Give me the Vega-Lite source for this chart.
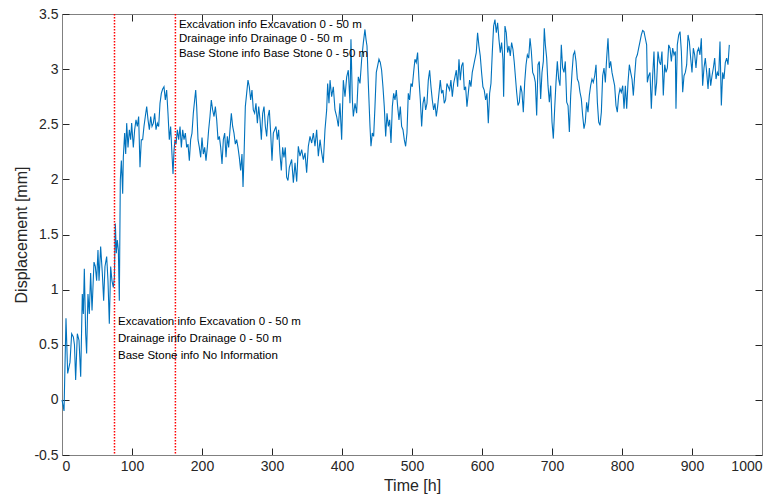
{
  "$schema": "https://vega.github.io/schema/vega-lite/v6.json",
  "width": 700,
  "height": 441,
  "autosize": "none",
  "padding": {"left": 62, "top": 14, "right": 16, "bottom": 47},
  "background": "white",
  "datasets": {
    "series": [
      {"t":0,"d":0.0},{"t":2.9,"d":-0.1},{"t":5.7,"d":0.74},{"t":8.1,"d":0.24},{"t":11.4,"d":0.34},{"t":13.8,"d":0.6},{"t":16.2,"d":0.57},{"t":17.8,"d":0.5},{"t":19.5,"d":0.18},{"t":21.9,"d":0.6},{"t":24.3,"d":0.54},{"t":26.7,"d":0.21},{"t":29.0,"d":0.96},{"t":30.5,"d":0.78},{"t":31.9,"d":1.19},{"t":33.8,"d":0.6},{"t":35.2,"d":0.42},{"t":37.1,"d":0.96},{"t":39.0,"d":0.78},{"t":40.9,"d":1.15},{"t":42.9,"d":0.81},{"t":45.7,"d":1.25},{"t":47.6,"d":1.21},{"t":49.5,"d":1.08},{"t":51.4,"d":1.36},{"t":52.9,"d":1.08},{"t":55.2,"d":1.39},{"t":57.6,"d":1.15},{"t":59.5,"d":0.9},{"t":61.4,"d":1.21},{"t":63.8,"d":1.3},{"t":65.7,"d":1.08},{"t":67.6,"d":0.69},{"t":69.5,"d":1.21},{"t":71.4,"d":1.08},{"t":73.3,"d":1.02},{"t":74.8,"d":1.11},{"t":76.2,"d":1.6},{"t":77.6,"d":1.33},{"t":79.0,"d":1.45},{"t":80.5,"d":1.36},{"t":81.9,"d":0.9},{"t":83.3,"d":1.99},{"t":84.8,"d":2.17},{"t":86.7,"d":1.87},{"t":87.6,"d":2.2},{"t":89.5,"d":2.42},{"t":91.0,"d":2.23},{"t":92.4,"d":2.51},{"t":94.3,"d":2.29},{"t":96.2,"d":2.45},{"t":98.1,"d":2.36},{"t":99.5,"d":2.51},{"t":101.9,"d":2.29},{"t":103.8,"d":2.45},{"t":105.7,"d":2.54},{"t":107.6,"d":2.48},{"t":109.5,"d":2.57},{"t":111.4,"d":2.11},{"t":113.3,"d":2.36},{"t":115.2,"d":2.36},{"t":117.1,"d":2.48},{"t":119.0,"d":2.57},{"t":121.0,"d":2.66},{"t":122.9,"d":2.54},{"t":124.8,"d":2.45},{"t":126.7,"d":2.57},{"t":128.6,"d":2.48},{"t":130.5,"d":2.51},{"t":132.4,"d":2.6},{"t":134.3,"d":2.45},{"t":136.2,"d":2.51},{"t":138.1,"d":2.48},{"t":140.0,"d":2.69},{"t":141.9,"d":2.78},{"t":143.8,"d":2.82},{"t":145.7,"d":2.84},{"t":147.6,"d":2.72},{"t":149.5,"d":2.81},{"t":151.4,"d":2.6},{"t":153.3,"d":2.36},{"t":155.2,"d":2.48},{"t":157.1,"d":2.23},{"t":158.6,"d":2.05},{"t":160.0,"d":2.26},{"t":161.4,"d":2.36},{"t":162.9,"d":2.32},{"t":164.8,"d":2.45},{"t":166.7,"d":2.36},{"t":168.6,"d":2.48},{"t":170.5,"d":2.29},{"t":172.4,"d":2.45},{"t":174.3,"d":2.36},{"t":176.2,"d":2.42},{"t":178.1,"d":2.29},{"t":180.0,"d":2.32},{"t":181.9,"d":2.17},{"t":183.8,"d":2.36},{"t":185.7,"d":2.42},{"t":187.6,"d":2.6},{"t":189.5,"d":2.72},{"t":191.0,"d":2.81},{"t":192.4,"d":2.66},{"t":194.3,"d":2.36},{"t":196.2,"d":2.29},{"t":198.1,"d":2.2},{"t":200.0,"d":2.38},{"t":201.9,"d":2.23},{"t":203.8,"d":2.29},{"t":205.7,"d":2.17},{"t":207.6,"d":2.29},{"t":209.5,"d":2.45},{"t":211.4,"d":2.57},{"t":213.3,"d":2.72},{"t":215.2,"d":2.63},{"t":217.2,"d":2.57},{"t":219.1,"d":2.66},{"t":221.0,"d":2.54},{"t":222.9,"d":2.36},{"t":224.8,"d":2.39},{"t":226.7,"d":2.29},{"t":228.6,"d":2.14},{"t":230.5,"d":2.36},{"t":232.4,"d":2.42},{"t":234.3,"d":2.2},{"t":236.2,"d":2.39},{"t":238.1,"d":2.29},{"t":240.0,"d":2.45},{"t":241.9,"d":2.6},{"t":243.8,"d":2.48},{"t":245.7,"d":2.42},{"t":247.6,"d":2.32},{"t":249.5,"d":2.36},{"t":251.4,"d":2.29},{"t":253.3,"d":2.2},{"t":255.2,"d":2.08},{"t":257.1,"d":2.23},{"t":258.6,"d":1.93},{"t":260.0,"d":2.2},{"t":261.9,"d":2.66},{"t":263.8,"d":2.78},{"t":265.7,"d":2.9},{"t":267.6,"d":2.84},{"t":269.5,"d":2.72},{"t":271.4,"d":2.81},{"t":273.3,"d":2.63},{"t":275.2,"d":2.6},{"t":277.1,"d":2.69},{"t":279.1,"d":2.51},{"t":281.0,"d":2.66},{"t":282.9,"d":2.54},{"t":284.8,"d":2.36},{"t":286.7,"d":2.6},{"t":288.6,"d":2.66},{"t":290.5,"d":2.48},{"t":292.4,"d":2.39},{"t":294.3,"d":2.57},{"t":296.2,"d":2.63},{"t":298.1,"d":2.42},{"t":300.0,"d":2.17},{"t":301.9,"d":2.42},{"t":303.8,"d":2.45},{"t":305.7,"d":2.48},{"t":307.6,"d":2.36},{"t":309.5,"d":2.45},{"t":311.4,"d":2.23},{"t":313.3,"d":2.08},{"t":315.2,"d":2.29},{"t":317.1,"d":2.2},{"t":319.0,"d":2.29},{"t":320.9,"d":2.02},{"t":322.8,"d":1.99},{"t":324.8,"d":2.11},
      {"t":328.1,"d":2.18},{"t":330.5,"d":1.97},{"t":332.9,"d":2.15},{"t":335.3,"d":1.98},{"t":337.6,"d":2.3},{"t":340.0,"d":2.21},{"t":342.4,"d":2.27},{"t":344.8,"d":2.18},{"t":347.2,"d":2.24},{"t":349.5,"d":2.06},{"t":351.9,"d":2.3},{"t":354.3,"d":2.39},{"t":356.7,"d":2.33},{"t":359.1,"d":2.42},{"t":361.4,"d":2.3},{"t":363.8,"d":2.45},{"t":366.2,"d":2.21},{"t":368.6,"d":2.36},{"t":371.0,"d":2.24},{"t":373.3,"d":2.15},{"t":375.7,"d":2.45},{"t":378.1,"d":2.63},{"t":379.5,"d":2.87},{"t":381.4,"d":2.69},{"t":382.9,"d":2.9},{"t":385.2,"d":2.75},{"t":387.6,"d":2.84},{"t":390.0,"d":2.63},{"t":392.4,"d":2.57},{"t":394.8,"d":2.48},{"t":397.1,"d":2.69},{"t":399.5,"d":2.36},{"t":401.9,"d":2.9},{"t":404.3,"d":2.75},{"t":406.7,"d":2.93},{"t":409.0,"d":2.99},{"t":411.4,"d":2.69},{"t":412.8,"d":3.27},{"t":414.8,"d":2.72},{"t":416.2,"d":2.57},{"t":418.6,"d":2.69},{"t":420.9,"d":2.6},{"t":423.3,"d":2.93},{"t":425.7,"d":2.87},{"t":428.1,"d":3.09},{"t":430.5,"d":3.24},{"t":432.8,"d":3.36},{"t":434.3,"d":3.27},{"t":435.7,"d":3.21},{"t":437.6,"d":2.87},{"t":440.0,"d":2.48},{"t":441.4,"d":2.3},{"t":443.3,"d":2.42},{"t":445.2,"d":2.39},{"t":447.1,"d":2.66},{"t":449.0,"d":2.97},{"t":450.9,"d":3.03},{"t":452.8,"d":3.09},{"t":454.7,"d":3.06},{"t":456.6,"d":2.99},{"t":458.5,"d":2.84},{"t":460.4,"d":2.66},{"t":462.4,"d":2.39},{"t":464.3,"d":2.6},{"t":466.2,"d":2.48},{"t":468.1,"d":2.54},{"t":470.0,"d":2.33},{"t":471.9,"d":2.66},{"t":473.8,"d":2.78},{"t":475.7,"d":2.72},{"t":477.6,"d":2.81},{"t":479.5,"d":2.66},{"t":481.4,"d":2.54},{"t":483.3,"d":2.66},{"t":485.2,"d":2.48},{"t":487.1,"d":2.45},{"t":489.0,"d":2.36},{"t":490.9,"d":2.3},{"t":492.8,"d":2.42},{"t":494.7,"d":2.78},{"t":496.6,"d":2.72},{"t":498.5,"d":2.87},{"t":500.4,"d":2.84},{"t":502.3,"d":2.97},{"t":504.2,"d":3.09},{"t":506.1,"d":3.06},{"t":508.0,"d":3.15},{"t":510.0,"d":2.9},{"t":511.9,"d":2.72},{"t":513.8,"d":2.48},{"t":515.7,"d":2.69},{"t":517.6,"d":2.75},{"t":519.5,"d":2.63},{"t":521.4,"d":2.69},{"t":523.3,"d":2.9},{"t":525.2,"d":2.99},{"t":527.1,"d":2.84},{"t":529.0,"d":2.72},{"t":530.9,"d":2.63},{"t":532.8,"d":2.69},{"t":534.7,"d":2.57},{"t":536.6,"d":2.66},{"t":538.5,"d":2.78},{"t":540.4,"d":2.9},{"t":542.3,"d":2.78},{"t":544.2,"d":2.81},{"t":546.1,"d":2.69},{"t":548.0,"d":2.72},{"t":549.9,"d":2.87},{"t":551.8,"d":2.84},{"t":553.7,"d":2.81},{"t":555.6,"d":2.9},{"t":557.6,"d":2.75},{"t":559.5,"d":2.87},{"t":561.4,"d":2.93},{"t":563.3,"d":2.99},{"t":565.2,"d":2.84},{"t":567.1,"d":3.09},{"t":569.0,"d":2.9},{"t":570.9,"d":3.03},{"t":572.8,"d":3.06},{"t":574.7,"d":2.81},{"t":576.6,"d":2.84},{"t":578.5,"d":2.66},{"t":580.4,"d":2.78},{"t":582.3,"d":2.9},{"t":584.2,"d":2.84},{"t":586.1,"d":2.97},{"t":588.0,"d":3.03},{"t":589.9,"d":3.09},{"t":591.8,"d":3.15},{"t":593.7,"d":3.33},{"t":595.6,"d":3.21},{"t":597.5,"d":3.12},{"t":599.4,"d":2.97},{"t":601.3,"d":2.84},{"t":603.2,"d":2.81},{"t":605.2,"d":2.72},{"t":607.1,"d":2.78},{"t":609.0,"d":2.51},{"t":610.9,"d":2.78},{"t":612.8,"d":2.87},{"t":614.7,"d":3.15},{"t":616.6,"d":3.39},{"t":618.5,"d":3.45},{"t":620.4,"d":3.33},{"t":622.3,"d":3.42},{"t":624.2,"d":3.27},{"t":626.1,"d":3.15},{"t":628.0,"d":3.24},{"t":629.9,"d":3.09},{"t":630.9,"d":2.75},{"t":632.8,"d":3.39},{"t":634.7,"d":3.33},{"t":636.6,"d":3.15},{"t":638.5,"d":3.21},{"t":640.4,"d":3.12},{"t":642.3,"d":3.24},{"t":644.2,"d":3.18},{"t":646.1,"d":3.06},
      {"t":649.5,"d":2.79},{"t":651.4,"d":2.67},{"t":653.3,"d":2.7},{"t":655.2,"d":2.85},{"t":657.1,"d":2.79},{"t":659.0,"d":2.61},{"t":661.0,"d":2.88},{"t":662.9,"d":3.04},{"t":664.8,"d":3.13},{"t":666.7,"d":3.1},{"t":668.6,"d":3.28},{"t":670.5,"d":3.16},{"t":672.4,"d":2.97},{"t":674.3,"d":2.94},{"t":676.2,"d":2.88},{"t":678.1,"d":2.58},{"t":680.0,"d":3.04},{"t":681.9,"d":3.07},{"t":683.8,"d":2.73},{"t":685.7,"d":2.97},{"t":687.6,"d":3.07},{"t":689.0,"d":3.37},{"t":690.5,"d":3.22},{"t":692.4,"d":3.1},{"t":694.3,"d":2.85},{"t":696.2,"d":2.7},{"t":698.1,"d":2.85},{"t":700.0,"d":2.52},{"t":701.9,"d":2.37},{"t":703.8,"d":2.64},{"t":705.7,"d":2.88},{"t":707.6,"d":3.07},{"t":709.5,"d":2.91},{"t":711.4,"d":2.85},{"t":713.3,"d":3.22},{"t":715.2,"d":3.01},{"t":717.1,"d":2.97},{"t":719.0,"d":3.07},{"t":721.0,"d":2.7},{"t":722.9,"d":2.67},{"t":724.8,"d":2.43},{"t":726.7,"d":2.76},{"t":728.6,"d":2.97},{"t":730.5,"d":3.13},{"t":732.4,"d":3.16},{"t":734.3,"d":3.07},{"t":736.2,"d":2.91},{"t":738.1,"d":2.88},{"t":740.0,"d":2.79},{"t":741.9,"d":2.73},{"t":743.8,"d":2.58},{"t":745.7,"d":2.46},{"t":747.6,"d":2.52},{"t":749.5,"d":2.7},{"t":751.4,"d":2.61},{"t":753.3,"d":2.76},{"t":755.2,"d":2.85},{"t":757.1,"d":2.91},{"t":759.0,"d":2.88},{"t":761.0,"d":2.94},{"t":762.9,"d":3.04},{"t":764.8,"d":2.7},{"t":766.7,"d":2.52},{"t":768.6,"d":2.49},{"t":770.5,"d":2.61},{"t":772.4,"d":2.94},{"t":774.3,"d":3.01},{"t":776.2,"d":2.88},{"t":778.1,"d":3.1},{"t":780.0,"d":3.28},{"t":781.9,"d":3.01},{"t":783.8,"d":3.07},{"t":785.7,"d":2.97},{"t":787.6,"d":2.91},{"t":789.5,"d":2.85},{"t":791.4,"d":2.67},{"t":793.3,"d":2.61},{"t":795.2,"d":2.76},{"t":797.1,"d":2.82},{"t":799.0,"d":2.79},{"t":801.0,"d":2.85},{"t":802.9,"d":2.64},{"t":804.8,"d":2.85},{"t":806.7,"d":2.64},{"t":808.6,"d":2.88},{"t":810.5,"d":3.04},{"t":812.4,"d":2.97},{"t":814.3,"d":2.91},{"t":816.2,"d":2.76},{"t":818.1,"d":2.94},{"t":820.0,"d":3.1},{"t":821.9,"d":3.13},{"t":823.8,"d":3.19},{"t":825.7,"d":3.25},{"t":827.6,"d":3.31},{"t":829.5,"d":3.35},{"t":831.4,"d":3.34},{"t":833.3,"d":3.28},{"t":835.2,"d":3.22},{"t":836.2,"d":2.88},{"t":838.1,"d":2.94},{"t":840.0,"d":2.97},{"t":841.9,"d":2.64},{"t":843.8,"d":2.94},{"t":845.7,"d":3.16},{"t":847.6,"d":2.76},{"t":849.5,"d":2.88},{"t":851.4,"d":3.16},{"t":853.3,"d":3.07},{"t":855.2,"d":3.04},{"t":857.1,"d":3.16},{"t":859.0,"d":2.76},{"t":861.0,"d":3.04},{"t":862.9,"d":2.97},{"t":864.8,"d":3.01},{"t":866.7,"d":3.22},{"t":868.6,"d":3.19},{"t":870.5,"d":3.07},{"t":872.4,"d":3.19},{"t":874.3,"d":3.13},{"t":876.2,"d":3.16},{"t":877.1,"d":2.64},{"t":879.0,"d":3.22},{"t":881.0,"d":3.31},{"t":882.9,"d":3.34},{"t":884.8,"d":3.16},{"t":886.7,"d":2.79},{"t":888.6,"d":2.94},{"t":890.5,"d":2.97},{"t":892.4,"d":3.04},{"t":894.3,"d":3.31},{"t":896.2,"d":3.25},{"t":898.1,"d":3.1},{"t":900.0,"d":2.97},{"t":901.9,"d":3.19},{"t":903.8,"d":3.13},{"t":905.7,"d":3.01},{"t":907.6,"d":3.16},{"t":909.5,"d":3.19},{"t":911.4,"d":3.13},{"t":913.3,"d":3.28},{"t":915.2,"d":2.85},{"t":917.1,"d":3.01},{"t":919.0,"d":3.1},{"t":921.0,"d":2.97},{"t":922.9,"d":2.82},{"t":924.8,"d":3.01},{"t":926.7,"d":2.85},{"t":928.6,"d":2.94},{"t":930.5,"d":3.01},{"t":932.4,"d":3.1},{"t":934.3,"d":2.91},{"t":936.2,"d":2.97},{"t":938.1,"d":2.94},{"t":940.0,"d":3.25},{"t":941.9,"d":2.67},{"t":943.8,"d":2.97},{"t":945.7,"d":2.91},{"t":947.6,"d":3.06},{"t":949.5,"d":3.1},{"t":951.4,"d":3.04},{"t":953.3,"d":3.22}
    ],
    "events": [{"t": 75}, {"t": 162}],
    "notes": [
      {"t": 167, "d": 3.4, "label": "Excavation info Excavation 0 - 50 m"},
      {"t": 167, "d": 3.27, "label": "Drainage info Drainage 0 - 50 m"},
      {"t": 167, "d": 3.14, "label": "Base Stone info Base Stone 0 - 50 m"},
      {"t": 80, "d": 0.71, "label": "Excavation info Excavation 0 - 50 m"},
      {"t": 80, "d": 0.55, "label": "Drainage info Drainage 0 - 50 m"},
      {"t": 80, "d": 0.4, "label": "Base Stone info No Information"}
    ]
  },
  "layer": [
    {
      "data": {"name": "series"},
      "mark": {"type": "line", "color": "#0072BD", "strokeWidth": 1.1, "interpolate": "linear"},
      "encoding": {
        "x": {
          "field": "t", "type": "quantitative",
          "scale": {"domain": [0, 1000], "nice": false, "zero": false},
          "axis": {"orient": "bottom", "title": "Time [h]", "values": [0,100,200,300,400,500,600,700,800,900,1000], "labelExpr": "'' + datum.value"}
        },
        "y": {
          "field": "d", "type": "quantitative",
          "scale": {"domain": [-0.5, 3.5], "nice": false, "zero": false},
          "axis": {"orient": "left", "title": "Displacement [mm]", "values": [-0.5,0,0.5,1,1.5,2,2.5,3,3.5], "labelExpr": "'' + datum.value"}
        }
      }
    },
    {
      "data": {"name": "events"},
      "mark": {"type": "rule", "color": "#FF0000", "strokeWidth": 1.5, "strokeDash": [1.5, 1.5]},
      "encoding": {"x": {"field": "t", "type": "quantitative", "axis": null}}
    },
    {
      "data": {"name": "notes"},
      "mark": {"type": "text", "align": "left", "baseline": "middle", "font": "Liberation Sans", "fontSize": 11.5, "color": "#000000"},
      "encoding": {
        "x": {"field": "t", "type": "quantitative", "axis": null},
        "y": {"field": "d", "type": "quantitative", "axis": null},
        "text": {"field": "label"}
      }
    },
    {
      "data": {"name": "notes"},
      "mark": {"type": "point", "opacity": 0},
      "encoding": {
        "x": {"field": "t", "type": "quantitative", "axis": {"orient": "top", "labels": false, "title": null, "values": [0,100,200,300,400,500,600,700,800,900,1000]}},
        "y": {"field": "d", "type": "quantitative", "axis": {"orient": "right", "labels": false, "title": null, "values": [-0.5,0,0.5,1,1.5,2,2.5,3,3.5]}}
      }
    }
  ],
  "config": {
    "view": {"stroke": null},
    "axis": {
      "grid": false,
      "domainColor": "#808080",
      "domainWidth": 1,
      "tickColor": "#262626",
      "tickWidth": 1,
      "tickSize": -7,
      "labelColor": "#262626",
      "titleColor": "#262626",
      "labelFont": "Liberation Sans",
      "titleFont": "Liberation Sans",
      "labelFontSize": 14,
      "titleFontSize": 16,
      "titleFontWeight": "normal",
      "labelPadding": 11
    }
  }
}
